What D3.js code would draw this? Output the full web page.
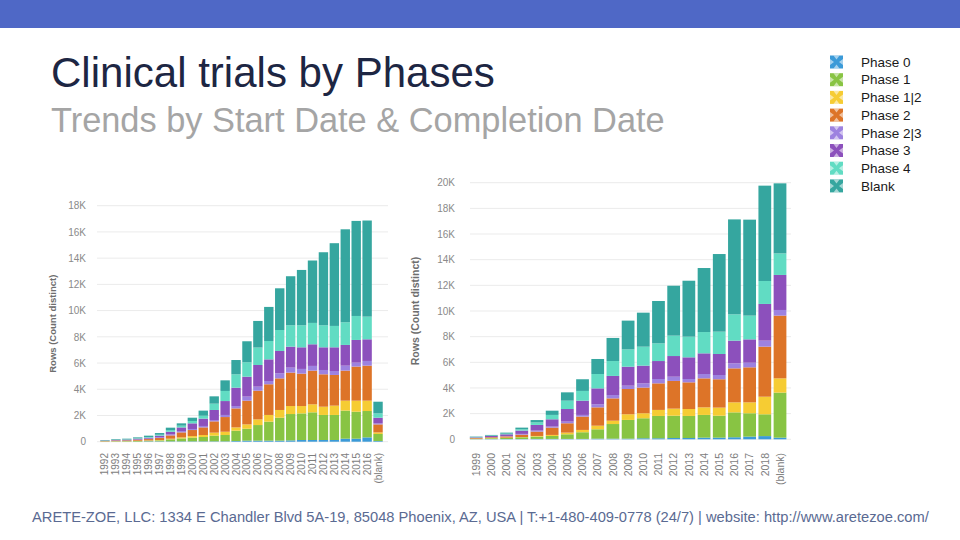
<!DOCTYPE html>
<html>
<head>
<meta charset="utf-8">
<script src="https://cdn.jsdelivr.net/npm/d3@7"></script>
<style>
  html, body { margin: 0; padding: 0; background: #fff; }
  svg { display: block; font-family: "Liberation Sans", Arial, sans-serif; }
</style>
</head>
<body>
<svg id="chart" width="960" height="540"></svg>
<script>
// ---------- DATA ----------
const phases = ["Phase 0", "Phase 1", "Phase 1|2", "Phase 2", "Phase 2|3", "Phase 3", "Phase 4", "Blank"];
const phaseColors = ["#3b9ad8", "#88c443", "#f6cc33", "#dd7428", "#9d82e0", "#8c50bc", "#61dcc3", "#35a69f"];

// Start date chart (left)
const startYears = ["1992","1993","1994","1995","1996","1997","1998","1999","2000","2001","2002","2003","2004","2005","2006","2007","2008","2009","2010","2011","2012","2013","2014","2015","2016","(blank)"];
const startPhase0  = [5,5,5,8,30,30,30,30,30,30,30,30,50,80,80,80,80,100,130,130,130,130,230,230,330,50];
const startPhase1  = [20,30,35,50,50,70,150,220,280,330,430,480,790,910,1190,1450,1750,2010,2030,2110,1910,1910,2140,2060,2010,540];
const startPhase12 = [5,10,10,15,20,30,50,80,120,150,230,250,250,330,430,510,590,610,560,610,630,710,760,840,790,120];
const startPhase2  = [30,45,50,75,100,150,250,380,460,580,860,1120,1450,1810,2190,2340,2410,2550,2470,2570,2470,2340,2290,2600,2670,610];
const startPhase23 = [5,10,10,15,30,50,80,100,80,110,100,160,180,310,310,250,390,380,360,360,330,300,380,300,360,80];
const startPhase3  = [25,40,45,65,80,130,200,280,430,560,770,1060,1400,1520,1650,1650,1700,1600,1650,1650,1730,1810,1580,1730,1650,430];
const startPhase4  = [10,15,20,30,50,70,130,130,180,220,480,770,1020,1100,1330,1400,1600,1630,1680,1630,1680,1630,1730,1830,1730,330];
const startBlank   = [30,45,55,72,100,130,180,180,250,390,560,810,1090,1600,2030,2600,3180,3740,4220,4760,5570,6310,7090,7250,7330,890];
const startTicks = [0,2000,4000,6000,8000,10000,12000,14000,16000,18000];

// Completion date chart (right)
const completionYears = ["1999","2000","2001","2002","2003","2004","2005","2006","2007","2008","2009","2010","2011","2012","2013","2014","2015","2016","2017","2018","(blank)"];
const compPhase0  = [10,20,20,20,30,30,30,30,50,50,50,80,80,100,100,130,130,160,210,250,130];
const compPhase1  = [30,60,80,140,180,230,360,520,730,1140,1460,1560,1740,1740,1720,1770,1710,1940,1820,1700,3510];
const compPhase12 = [10,20,30,20,50,80,130,180,280,260,440,390,470,550,540,590,630,780,850,1370,1110];
const compPhase2  = [50,60,100,180,340,570,730,1040,1430,1740,1970,2000,2070,2160,2080,2260,2210,2650,2730,3900,4890];
const compPhase23 = [10,20,30,60,80,80,130,130,240,260,260,330,340,330,260,340,330,390,360,470,440];
const compPhase3  = [40,80,130,260,440,570,980,1110,1240,1490,1480,1380,1400,1610,1690,1610,1640,1770,1820,2860,2730];
const compPhase4  = [20,30,50,100,200,340,650,760,1120,1160,1350,1480,1380,1590,1610,1660,1740,2050,1850,1790,1680];
const compBlank   = [40,50,80,130,180,330,650,910,1170,1800,2240,2650,3300,3890,4360,4990,6050,7400,7480,7430,5460];
const completionTicks = [0,2000,4000,6000,8000,10000,12000,14000,16000,18000,20000];

const titleText = "Clinical trials by Phases";
const subtitleText = "Trends by Start Date & Completion Date";
const footerText = "ARETE-ZOE, LLC: 1334 E Chandler Blvd 5A-19, 85048 Phoenix, AZ, USA | T:+1-480-409-0778 (24/7) | website: http://www.aretezoe.com/";
const yAxisTitle = "Rows (Count distinct)";

// ---------- DRAW ----------
const svg = d3.select("#chart");

// banner
svg.append("rect").attr("x", 0).attr("y", 0).attr("width", 960).attr("height", 28).attr("fill", "#4f68c6");

function fitText(sel, targetWidth, baseSize) {
  sel.style("font-size", baseSize + "px");
  const w = sel.node().getComputedTextLength();
  sel.style("font-size", (baseSize * targetWidth / w) + "px");
}

const title = svg.append("text").attr("x", 51).attr("y", 87).attr("fill", "#1d2643").text(titleText);
fitText(title, 444, 40);
const subtitle = svg.append("text").attr("x", 51).attr("y", 132).attr("fill", "#a5a5a5").text(subtitleText);
fitText(subtitle, 614, 32);
const footer = svg.append("text").attr("x", 32).attr("y", 522).attr("fill", "#5a6a92").text(footerText);
fitText(footer, 898, 14);

function buildRows(cats, arrays) {
  return cats.map((c, i) => {
    const row = { cat: c };
    phases.forEach((p, k) => { row[p] = arrays[k][i]; });
    return row;
  });
}

function drawChart(cfg) {
  const rows = buildRows(cfg.cats, cfg.series);
  const x = d3.scaleBand().domain(cfg.cats).range(cfg.xRange).paddingInner(cfg.pad).paddingOuter(cfg.pad / 2);
  const y = d3.scaleLinear().domain([0, cfg.yMax]).range(cfg.yRange);
  const g = svg.append("g");

  // gridlines
  g.append("g").selectAll("line").data(cfg.ticks).join("line")
    .attr("x1", cfg.gridX[0]).attr("x2", cfg.gridX[1])
    .attr("y1", d => y(d)).attr("y2", d => y(d))
    .attr("stroke", "#ebebeb").attr("stroke-width", 1);

  // y axis
  const yAxis = d3.axisLeft(y).tickValues(cfg.ticks).tickSize(0).tickPadding(0)
    .tickFormat(d => d === 0 ? "0" : (d / 1000) + "K");
  const ya = g.append("g").attr("transform", `translate(${cfg.tickX},0)`).call(yAxis);
  ya.select(".domain").remove();
  ya.selectAll("text").attr("fill", "#8a8a8a").style("font-size", cfg.tickSize + "px");

  // y title
  g.append("text")
    .attr("transform", `translate(${cfg.titleX},${(cfg.yRange[0] + cfg.yRange[1]) / 2}) rotate(-90)`)
    .attr("text-anchor", "middle").attr("fill", "#6e6e6e")
    .style("font-size", cfg.titleSize + "px").style("font-weight", "bold")
    .text(yAxisTitle);

  // bars
  const stack = d3.stack().keys(phases)(rows);
  g.append("g").selectAll("g").data(stack).join("g")
    .attr("fill", (d, i) => phaseColors[i])
    .selectAll("rect").data(d => d).join("rect")
    .attr("x", d => x(d.data.cat))
    .attr("width", x.bandwidth())
    .attr("y", d => y(d[1]))
    .attr("height", d => Math.max(0, y(d[0]) - y(d[1])));

  // x axis labels
  const xAxis = d3.axisBottom(x).tickSize(0).tickPadding(0);
  const xa = g.append("g").attr("transform", `translate(0,${cfg.labelTop})`).call(xAxis);
  xa.select(".domain").remove();
  xa.selectAll("text")
    .attr("transform", "rotate(-90)")
    .attr("text-anchor", "end")
    .attr("x", 0).attr("y", 0).attr("dy", "0.35em")
    .attr("fill", "#7d7d7d")
    .style("font-size", cfg.labelSize + "px");
}

drawChart({
  cats: startYears,
  series: [startPhase0, startPhase1, startPhase12, startPhase2, startPhase23, startPhase3, startPhase4, startBlank],
  xRange: [99.5, 383.5], pad: 0.14,
  yMax: 18000, yRange: [441.7, 205.7], ticks: startTicks,
  gridX: [97, 388], tickX: 86, tickSize: 10,
  titleX: 56, titleSize: 9.5,
  labelTop: 453, labelSize: 10
});

drawChart({
  cats: completionYears,
  series: [compPhase0, compPhase1, compPhase12, compPhase2, compPhase23, compPhase3, compPhase4, compBlank],
  xRange: [468.6, 787.6], pad: 0.16,
  yMax: 20000, yRange: [439.3, 182.7], ticks: completionTicks,
  gridX: [470, 791], tickX: 455, tickSize: 10,
  titleX: 419, titleSize: 10.5,
  labelTop: 453, labelSize: 10.5
});

// legend
const legend = svg.append("g").attr("transform", "translate(830,62)");
const li = legend.selectAll("g").data(phases).join("g")
  .attr("transform", (d, i) => `translate(0,${i * 17.7})`);
li.append("rect").attr("x", 0).attr("y", -6.5).attr("width", 13).attr("height", 13)
  .attr("fill", (d, i) => phaseColors[i]);
// notch triangles giving the bow-tie marker look
li.append("path")
  .attr("d", "M3.5,-6.5 L6.5,-2.5 L9.5,-6.5 Z M3.5,6.5 L6.5,2.5 L9.5,6.5 Z M0,-3 L4,0 L0,3 Z M13,-3 L9,0 L13,3 Z")
  .attr("fill", "#ffffff").attr("fill-opacity", 0.55);
li.append("text").attr("x", 31).attr("y", 0).attr("dy", "0.35em")
  .attr("fill", "#1a1a1a").style("font-size", "13.5px")
  .text(d => d);
</script>
</body>
</html>
